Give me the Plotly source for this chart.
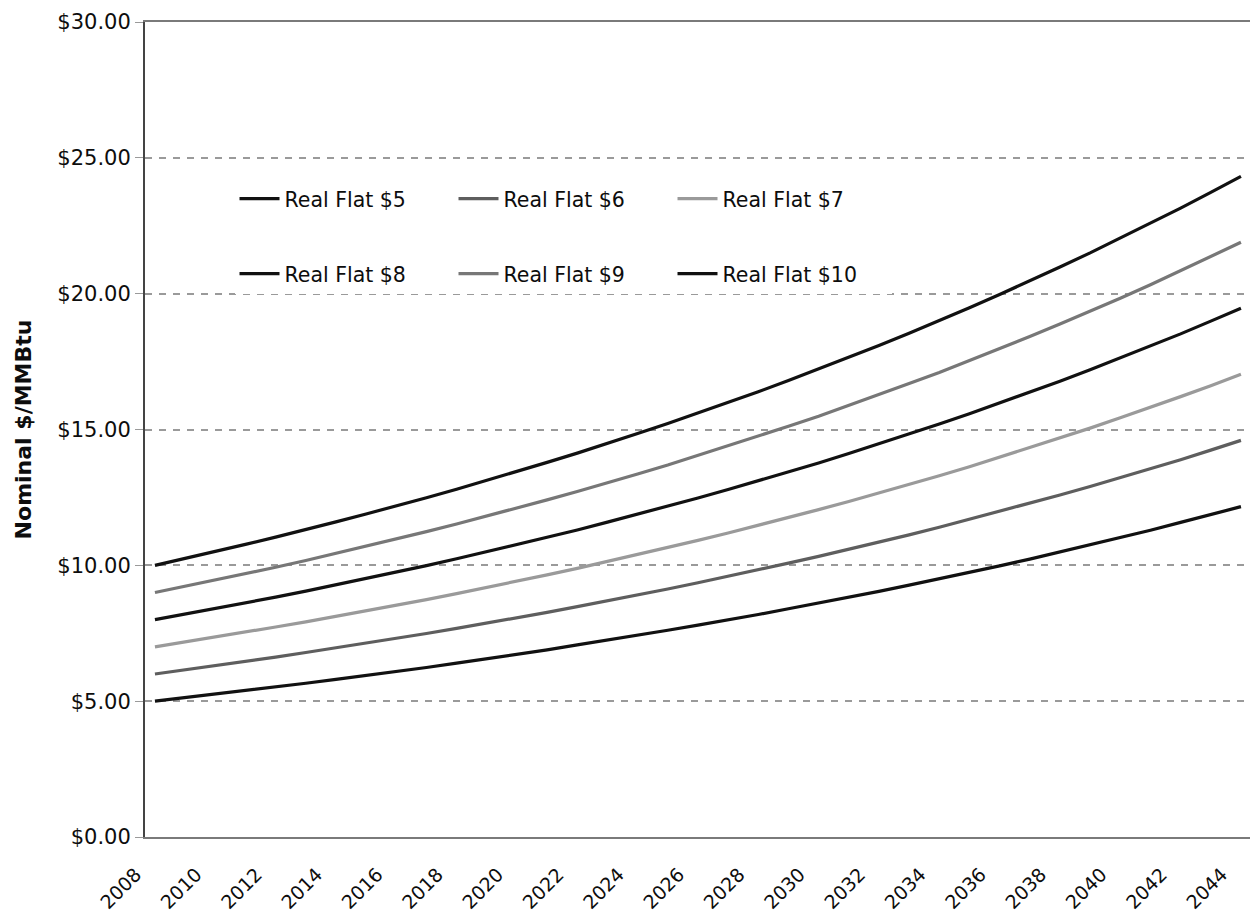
import plotly.graph_objects as go

# Nominal gas price paths, one value per year, 2008-2044
years = list(range(2008, 2045))

flat_5 = [5.00, 5.13, 5.25, 5.38, 5.52, 5.66, 5.80, 5.94, 6.09, 6.24, 6.40, 6.56, 6.72,
          6.89, 7.07, 7.24, 7.42, 7.61, 7.80, 7.99, 8.19, 8.40, 8.61, 8.82, 9.04, 9.27,
          9.50, 9.74, 9.98, 10.23, 10.49, 10.75, 11.02, 11.29, 11.58, 11.87, 12.16]
flat_6 = [6.00, 6.15, 6.30, 6.46, 6.62, 6.79, 6.96, 7.13, 7.31, 7.49, 7.68, 7.87, 8.07,
          8.27, 8.48, 8.69, 8.91, 9.13, 9.36, 9.59, 9.83, 10.08, 10.33, 10.59, 10.85, 11.12,
          11.40, 11.69, 11.98, 12.28, 12.59, 12.90, 13.22, 13.55, 13.89, 14.24, 14.60]
flat_7 = [7.00, 7.18, 7.35, 7.54, 7.73, 7.92, 8.12, 8.32, 8.53, 8.74, 8.96, 9.18, 9.41,
          9.65, 9.89, 10.14, 10.39, 10.65, 10.92, 11.19, 11.47, 11.76, 12.05, 12.35, 12.66,
          12.98, 13.30, 13.63, 13.98, 14.32, 14.68, 15.05, 15.43, 15.81, 16.21, 16.61, 17.03]
flat_8 = [8.00, 8.20, 8.40, 8.62, 8.83, 9.05, 9.28, 9.51, 9.75, 9.99, 10.24, 10.50, 10.76,
          11.03, 11.30, 11.59, 11.88, 12.17, 12.48, 12.79, 13.11, 13.44, 13.77, 14.12, 14.47,
          14.83, 15.20, 15.58, 15.97, 16.37, 16.78, 17.20, 17.63, 18.07, 18.52, 18.99, 19.46]
flat_9 = [9.00, 9.23, 9.46, 9.69, 9.93, 10.18, 10.44, 10.70, 10.97, 11.24, 11.52, 11.81,
          12.10, 12.41, 12.72, 13.03, 13.36, 13.69, 14.04, 14.39, 14.75, 15.12, 15.49, 15.88,
          16.28, 16.69, 17.10, 17.53, 17.97, 18.42, 18.88, 19.35, 19.83, 20.33, 20.84, 21.36,
          21.89]
flat_10 = [10.00, 10.25, 10.51, 10.77, 11.04, 11.31, 11.60, 11.89, 12.18, 12.49, 12.80,
           13.12, 13.45, 13.79, 14.13, 14.48, 14.85, 15.22, 15.60, 15.99, 16.39, 16.80, 17.22,
           17.65, 18.09, 18.54, 19.00, 19.48, 19.97, 20.46, 20.98, 21.50, 22.04, 22.59, 23.15,
           23.73, 24.32]

series_names = ["Real Flat $5", "Real Flat $6", "Real Flat $7",
                "Real Flat $8", "Real Flat $9", "Real Flat $10"]
series_values = [flat_5, flat_6, flat_7, flat_8, flat_9, flat_10]
series_colors = ["#111111", "#5e5e5e", "#9a9a9a", "#111111", "#777777", "#111111"]
series_legend = ["legend", "legend", "legend", "legend2", "legend2", "legend2"]

x_ticks = list(range(2008, 2045, 2))
y_ticks = [0, 5, 10, 15, 20, 25, 30]
y_tick_text = ["$0.00", "$5.00", "$10.00", "$15.00", "$20.00", "$25.00", "$30.00"]

FONT = "DejaVu Sans, Liberation Sans, sans-serif"
TEXT_COLOR = "#0d0d0d"

fig = go.Figure()
for name, vals, color, leg in zip(series_names, series_values, series_colors, series_legend):
    fig.add_trace(go.Scatter(
        x=years, y=vals, name=name, mode="lines",
        line=dict(color=color, width=3.2),
        legend=leg,
    ))

legend_style = dict(
    orientation="h",
    bgcolor="rgba(255,255,255,1)",
    borderwidth=0,
    font=dict(family=FONT, size=20.5, color=TEXT_COLOR),
    entrywidth=164,
    entrywidthmode="pixels",
    itemwidth=40,
    xanchor="left",
    yanchor="middle",
    traceorder="normal",
)

fig.update_layout(
    width=1250,
    height=919,
    margin=dict(l=145, r=0, t=22, b=82),
    paper_bgcolor="white",
    plot_bgcolor="white",
    showlegend=True,
    legend=dict(x=0.081, y=0.783, **legend_style),
    legend2=dict(x=0.081, y=0.691, **legend_style),
    xaxis=dict(
        range=[2007.67, 2044.30],
        tickmode="array",
        tickvals=x_ticks,
        ticktext=[str(v) for v in x_ticks],
        tickangle=-45,
        tickfont=dict(family=FONT, size=19, color=TEXT_COLOR),
        ticklabeloverflow="allow",
        ticklabelshift=-19,
        ticklabelstandoff=17,
        showgrid=False,
        zeroline=False,
        showline=True,
        linecolor="#7a7a7a",
        linewidth=2,
        mirror=True,
        ticks="",
        automargin=False,
    ),
    yaxis=dict(
        range=[0, 30],
        tickmode="array",
        tickvals=y_ticks,
        ticktext=y_tick_text,
        tickfont=dict(family=FONT, size=21, color=TEXT_COLOR),
        showgrid=True,
        gridcolor="#9a9a9a",
        gridwidth=1.5,
        griddash="7px,7px",
        zeroline=False,
        showline=True,
        linecolor="#444444",
        linewidth=2,
        ticks="outside",
        ticklen=8,
        tickcolor="#9a9a9a",
        automargin=False,
        title=dict(
            text="<b>Nominal $/MMBtu</b>",
            font=dict(family="DejaVu Sans, sans-serif", size=22, color=TEXT_COLOR),
            standoff=20,
        ),
    ),
    shapes=[
        # white backdrop behind the legend block, hiding the grid there
        dict(type="rect", xref="paper", yref="paper",
             x0=0.063, x1=0.674, y0=0.652, y1=0.825,
             fillcolor="white", line=dict(width=0), layer="between"),
    ],
)

fig.write_html("out.html")
